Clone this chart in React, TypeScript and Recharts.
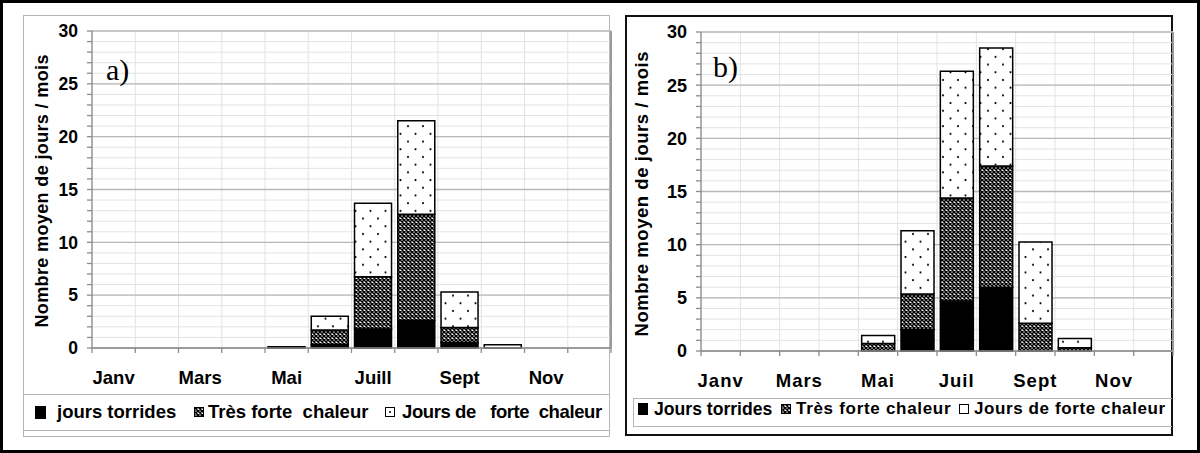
import React from 'react';
import { BarChart, Bar, XAxis, YAxis, CartesianGrid, ReferenceLine } from 'recharts';

// ---------- DATA ----------
const monthsA = ['Janv', 'Févr', 'Mars', 'Avr', 'Mai', 'Juin', 'Juill', 'Août', 'Sept', 'Oct', 'Nov', 'Déc'];
const monthsB = ['Janv', 'Févr', 'Mars', 'Avr', 'Mai', 'Juin', 'Juil', 'Août', 'Sept', 'Oct', 'Nov', 'Déc'];

// panel a)
const torridesA = [0, 0, 0, 0, 0.12, 0.3, 1.8, 2.6, 0.5, 0, 0, 0];
const tresForteA = [0, 0, 0, 0, 0, 1.4, 4.95, 10.05, 1.45, 0, 0, 0];
const forteA = [0, 0, 0, 0, 0, 1.3, 6.95, 8.85, 3.35, 0.3, 0, 0];

// panel b)
const torridesB = [0, 0, 0, 0, 0, 2.0, 4.7, 6.0, 0, 0, 0, 0];
const tresForteB = [0, 0, 0, 0, 0.7, 3.35, 9.7, 11.4, 2.6, 0.3, 0, 0];
const forteB = [0, 0, 0, 0, 0.75, 5.95, 11.9, 11.1, 7.65, 0.88, 0, 0];

const Y_MAX = 30;
const yMinorTicks = [0, 1, 2, 3, 4, 5, 6, 7, 8, 9, 10, 11, 12, 13, 14, 15, 16, 17, 18, 19, 20, 21, 22, 23, 24, 25, 26, 27, 28, 29, 30];
const yMajorTicks = [0, 5, 10, 15, 20, 25, 30];
const monthBoundaryTicks = [0, 1, 2, 3, 4, 5, 6, 7, 8, 9, 10, 11, 12];

const legendA = ['jours torrides', 'Très forte  chaleur', 'Jours de   forte  chaleur'];
const legendB = ['Jours torrides', 'Très forte chaleur', 'Jours de forte chaleur'];
const yTitle = 'Nombre moyen de jours / mois';

const FONT = '"Liberation Sans", Arial, Helvetica, sans-serif';

type PanelCfg = {
  cats: string[];
  t: number[];
  tf: number[];
  f: number[];
  left: number;
  width: number;
  margin: { top: number; right: number; bottom: number; left: number };
  gap: string;
  xTickMargin: number;
  xFont: number;
  xSpacing: number;
  yFont: number;
};

const majorGen = (props: any) => {
  const yAxis = props && props.yAxis;
  if (yAxis && typeof yAxis.scale === 'function') {
    return yMajorTicks.map((v) => yAxis.scale(v));
  }
  const o = props && props.offset;
  if (!o) return [];
  return yMajorTicks.map((v) => o.top + o.height * (1 - v / Y_MAX));
};

function Panel({ cfg }: { cfg: PanelCfg }) {
  const data = cfg.cats.map((m, i) => ({
    month: m,
    pos: i + 0.5,
    torrides: cfg.t[i],
    tres: cfg.tf[i],
    forte: cfg.f[i],
  }));
  return (
    <div style={{ position: 'absolute', left: cfg.left, top: 0 }}>
      <BarChart width={cfg.width} height={400} data={data} margin={cfg.margin} barCategoryGap={cfg.gap}>
        <CartesianGrid xAxisId="axA" yAxisId="y" stroke="#e3e3e3" strokeWidth={1} />
        <CartesianGrid
          xAxisId="axA"
          yAxisId="y"
          stroke="#b8b8b8"
          strokeWidth={1.3}
          vertical={false}
          horizontalCoordinatesGenerator={majorGen}
        />
        <XAxis
          xAxisId="axB"
          dataKey="month"
          height={30}
          interval={1}
          axisLine={false}
          tickLine={false}
          tickSize={0}
          tickMargin={cfg.xTickMargin}
          tick={{ fill: '#000', fontSize: cfg.xFont, fontWeight: 700, style: { letterSpacing: cfg.xSpacing } }}
        />
        <XAxis
          xAxisId="axA"
          type="number"
          dataKey="pos"
          domain={[0, 12]}
          ticks={monthBoundaryTicks}
          interval={0}
          height={6}
          tickSize={5}
          tickFormatter={() => ''}
          stroke="#8c8c8c"
          strokeWidth={1.3}
        />
        <YAxis
          yAxisId="y"
          domain={[0, Y_MAX]}
          ticks={yMinorTicks}
          interval={0}
          width={60}
          tickSize={5}
          tickMargin={9}
          tickFormatter={(v: number) => (v % 5 === 0 ? String(v) : '')}
          stroke="#8c8c8c"
          strokeWidth={1.3}
          tick={{ fill: '#000', fontSize: cfg.yFont, fontWeight: 700 }}
        />
        <ReferenceLine xAxisId="axA" yAxisId="y" x={12} stroke="#9a9a9a" strokeWidth={2} />
        <Bar xAxisId="axB" yAxisId="y" dataKey="torrides" stackId="s" fill="#000" stroke="#000" strokeWidth={1.5} isAnimationActive={false} />
        <Bar xAxisId="axB" yAxisId="y" dataKey="tres" stackId="s" fill="url(#hatchPat)" stroke="#000" strokeWidth={1.5} isAnimationActive={false} />
        <Bar xAxisId="axB" yAxisId="y" dataKey="forte" stackId="s" fill="url(#dotPat)" stroke="#000" strokeWidth={1.5} isAnimationActive={false} />
      </BarChart>
    </div>
  );
}

function Marker({ kind, left, top, w, h }: { kind: string; left: number; top: number; w: number; h: number }) {
  const fill = kind === 'black' ? '#000' : kind === 'hatch' ? 'url(#hatchPat)' : '#fff';
  return (
    <svg style={{ position: 'absolute', left, top }} width={w} height={h}>
      <rect x={0.5} y={0.5} width={w - 1} height={h - 1} fill={fill} stroke="#000" strokeWidth={1} />
      {kind === 'dot' ? <circle cx={w / 2} cy={h / 2} r={1} fill="#000" /> : null}
    </svg>
  );
}

function LegendText({ text, left, top, size, spacing }: { text: string; left: number; top: number; size: number; spacing: number }) {
  return (
    <div
      style={{
        position: 'absolute',
        left,
        top,
        fontSize: size,
        fontWeight: 700,
        lineHeight: '20px',
        whiteSpace: 'pre',
        letterSpacing: spacing,
        color: '#000',
      }}
    >
      {text}
    </div>
  );
}

export default function App() {
  const cfgA: PanelCfg = {
    cats: monthsA,
    t: torridesA,
    tf: tresForteA,
    f: forteA,
    left: 0,
    width: 620,
    margin: { top: 31, right: 9, bottom: 16, left: 32 },
    gap: '7%',
    xTickMargin: 17,
    xFont: 18.5,
    xSpacing: 0,
    yFont: 17.5,
  };
  const cfgB: PanelCfg = {
    cats: monthsB,
    t: torridesB,
    tf: tresForteB,
    f: forteB,
    left: 610,
    width: 580,
    margin: { top: 32, right: 17, bottom: 13, left: 31 },
    gap: '8.5%',
    xTickMargin: 17,
    xFont: 18.5,
    xSpacing: 1,
    yFont: 18,
  };

  return (
    <div
      style={{
        position: 'absolute',
        left: 0,
        top: 0,
        width: 1200,
        height: 453,
        background: '#fff',
        fontFamily: FONT,
        overflow: 'hidden',
      }}
    >
      <svg width={0} height={0} style={{ position: 'absolute' }}>
        <defs>
          <pattern id="hatchPat" width={4} height={4} patternUnits="userSpaceOnUse">
            <rect width={4} height={4} fill="#fff" />
            <path d="M0,0 L4,4 M4,0 L0,4" stroke="#000" strokeWidth={1.5} />
          </pattern>
          <pattern id="dotPat" width={15} height={15.4} patternUnits="userSpaceOnUse">
            <rect width={15} height={15.4} fill="#fff" />
            <circle cx={3} cy={3} r={1.1} fill="#000" />
            <circle cx={10.5} cy={10.7} r={1.1} fill="#000" />
          </pattern>
        </defs>
      </svg>

      {/* outer frame */}
      <div style={{ position: 'absolute', left: 0, top: 0, width: 1200, height: 453, boxSizing: 'border-box', border: '3px solid #000' }} />

      {/* panel a box */}
      <div style={{ position: 'absolute', left: 23, top: 15, width: 587, height: 422, boxSizing: 'border-box', border: '1px solid #b5b5b5' }} />
      <div style={{ position: 'absolute', left: 23, top: 394, width: 587, height: 37, boxSizing: 'border-box', borderTop: '1px solid #b5b5b5', borderBottom: '1px solid #b5b5b5' }} />

      {/* panel b box */}
      <div style={{ position: 'absolute', left: 625, top: 15, width: 548, height: 421, boxSizing: 'border-box', border: '2px solid #111' }} />
      <div style={{ position: 'absolute', left: 633, top: 398, width: 539, height: 29, boxSizing: 'border-box', border: '1px solid #b5b5b5', borderRight: 'none' }} />

      <Panel cfg={cfgA} />
      <Panel cfg={cfgB} />

      {/* titles */}
      <svg style={{ position: 'absolute', left: 0, top: 0, pointerEvents: 'none' }} width={1200} height={453}>
        <text
          transform="translate(42,191) rotate(-90)"
          textAnchor="middle"
          dominantBaseline="central"
          fontSize={18}
          fontWeight={700}
          textLength={273}
          lengthAdjust="spacing"
          fill="#000"
        >
          {yTitle}
        </text>
        <text
          transform="translate(641,194) rotate(-90)"
          textAnchor="middle"
          dominantBaseline="central"
          fontSize={18.5}
          fontWeight={700}
          textLength={285}
          lengthAdjust="spacing"
          fill="#000"
        >
          {yTitle}
        </text>
        <text x={106} y={80} fontSize={30} fontFamily='"Liberation Serif", "Times New Roman", serif' fill="#000">a)</text>
        <text x={713} y={77} fontSize={30} fontFamily='"Liberation Serif", "Times New Roman", serif' fill="#000">b)</text>
      </svg>

      {/* legend a */}
      <Marker kind="black" left={35} top={406} w={11} h={13} />
      <LegendText text={legendA[0]} left={57} top={402} size={18.5} spacing={0} />
      <Marker kind="hatch" left={194} top={407} w={10} h={10} />
      <LegendText text={legendA[1]} left={208} top={402} size={18.5} spacing={0} />
      <Marker kind="dot" left={385} top={407} w={10} h={10} />
      <LegendText text={legendA[2]} left={402} top={402} size={18.5} spacing={-0.4} />

      {/* legend b */}
      <Marker kind="black" left={638} top={403} w={10} h={12} />
      <LegendText text={legendB[0]} left={654} top={399} size={17.6} spacing={0} />
      <Marker kind="hatch" left={781} top={404} w={10} h={10} />
      <LegendText text={legendB[1]} left={796} top={399} size={17} spacing={0.7} />
      <Marker kind="white" left={959} top={404} w={10} h={10} />
      <LegendText text={legendB[2]} left={974} top={399} size={17} spacing={0.6} />
    </div>
  );
}
